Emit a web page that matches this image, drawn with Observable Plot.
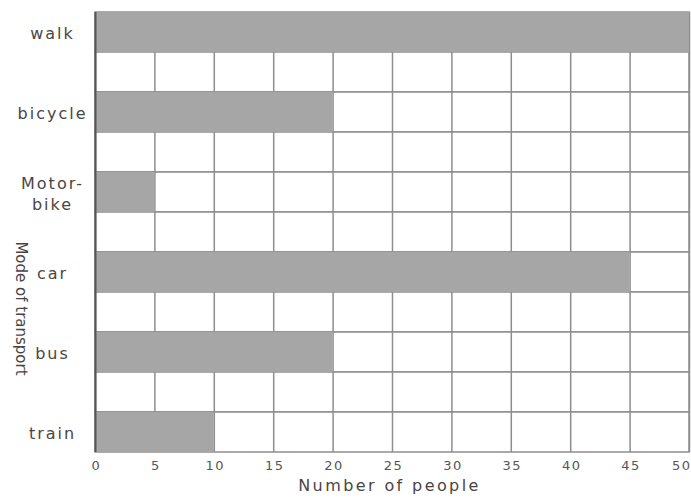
<!DOCTYPE html>
<html>
<head>
<meta charset="utf-8">
<script src="https://cdn.jsdelivr.net/npm/d3@7"></script>
<script src="https://cdn.jsdelivr.net/npm/@observablehq/plot@0.6"></script>
<style>
  html, body { margin: 0; padding: 0; background: #fff; }
</style>
</head>
<body>
<div id="chart"></div>
<script>
const categories = ["walk", "bicycle", "Motor-\nbike", "car", "bus", "train"];
const values = [50, 20, 5, 45, 20, 10];
const xTicks = [0, 5, 10, 15, 20, 25, 30, 35, 40, 45, 50];
const xLabel = "Number of people";
const yLabel = "Mode of transport";

// rows: each category followed by an empty spacer row
const rows = [];
categories.forEach((c, i) => {
  rows.push(c);
  if (i < categories.length - 1) rows.push("gap" + i);
});
const data = categories.map((c, i) => ({key: c, value: values[i]}));

const textColor = "#4a4545";
const gridColor = "#8e8e8e";

const chart = Plot.plot({
  width: 691,
  height: 502,
  marginLeft: 95,
  marginRight: 2,
  marginTop: 12,
  marginBottom: 50,
  style: {fontFamily: "DejaVu Sans", background: "#fff"},
  x: {domain: [0, 50], axis: null},
  y: {type: "band", domain: rows, padding: 0, axis: null},
  marks: [
    Plot.barX(rows, {y: d => d, x1: 0, x2: 50, fill: "white", stroke: gridColor, strokeWidth: 1.5}),
    Plot.ruleX(xTicks, {stroke: gridColor, strokeWidth: 1.5}),
    Plot.barX(data, {y: "key", x: "value", fill: "#a6a6a6"}),
    Plot.ruleX([0], {stroke: "#555", strokeWidth: 2}),
    Plot.text(xTicks.slice(0, -1), {x: d => d, text: d => String(d), frameAnchor: "bottom", lineAnchor: "middle", dx: 1, dy: 13, fontSize: 13, fill: "#5a5555"}),
    Plot.text(xTicks.slice(-1), {x: d => d, text: d => String(d), frameAnchor: "bottom", lineAnchor: "middle", textAnchor: "end", dx: 2, dy: 13, fontSize: 13, fill: "#5a5555"}),
    Plot.text(data, {y: "key", text: "key", frameAnchor: "left", dx: -43, textAnchor: "middle", fontSize: 16, fill: textColor, lineHeight: 1.3}),
    Plot.text([xLabel], {text: d => d, frameAnchor: "bottom", lineAnchor: "bottom", textAnchor: "middle", dx: -3, dy: 38, fontSize: 16, fill: textColor}),
    Plot.text([yLabel], {text: d => d, frameAnchor: "left", textAnchor: "middle", dx: -75, dy: 76, rotate: 90, fontSize: 15, fill: textColor})
  ]
});

// widen letter spacing a little to mimic the reference's wide geometric font
const catSet = new Set(categories.map(c => c.replace("\n", "")));
const tickSet = new Set(xTicks.map(String));
d3.select(chart).selectAll("text").each(function () {
  const t = this.textContent;
  if (catSet.has(t)) this.style.letterSpacing = "2px";
  else if (tickSet.has(t)) this.style.letterSpacing = "1.5px";
  else if (t === xLabel) this.style.letterSpacing = "2.4px";
});
document.getElementById("chart").appendChild(chart);
</script>
</body>
</html>
